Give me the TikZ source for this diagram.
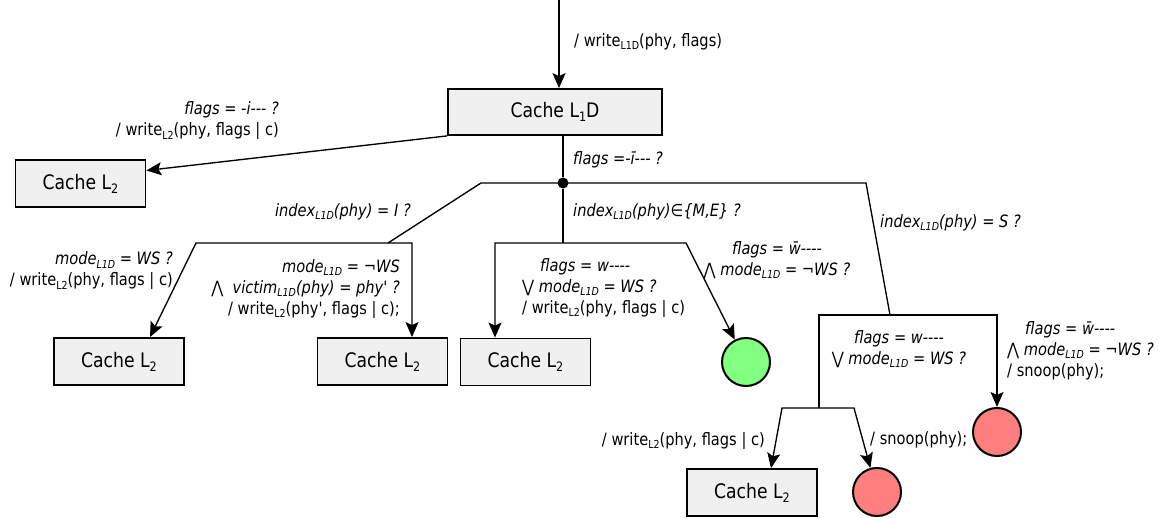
\documentclass[tikz,border=0pt]{standalone}
\usepackage{fontspec}
\setmainfont{DejaVu Sans}[Ligatures=TeXOff, FakeStretch=0.86]
\usetikzlibrary{arrows.meta}
\definecolor{boxGray}{HTML}{F0F0F0}
\definecolor{hitGreen}{HTML}{80FF80}
\definecolor{missRed}{HTML}{FF7F7F}
\newcommand{\lsub}[1]{\raisebox{-0.35ex}{\fontsize{11}{11}\selectfont #1}}
\newcommand{\bsub}[1]{\raisebox{-0.35ex}{\fontsize{13}{13}\selectfont #1}}

\begin{document}
\begin{tikzpicture}[x=1pt, y=-1pt,
    cachebox/.style={draw, line width=1.8pt, fill=boxGray, minimum width=130pt, minimum height=47pt, inner sep=0, font=\fontsize{20}{20}\selectfont},
    endhit/.style={circle, draw, line width=2pt, fill=hitGreen, minimum size=48pt, inner sep=0},
    endmiss/.style={circle, draw, line width=2pt, fill=missRed, minimum size=48pt, inner sep=0},
    flow/.style={line width=1.35pt},
    arr/.style={flow, -{Stealth[length=15pt, width=13pt, inset=3pt]}},
    both/.style={flow, {Stealth[length=15pt, width=13pt, inset=3pt]}-{Stealth[length=15pt, width=13pt, inset=3pt]}},
    lbl/.style={inner sep=0, font=\fontsize{17}{21}\selectfont}]
    \useasboundingbox (0,0) rectangle (1159,518);

    \node[cachebox, minimum width=214pt, minimum height=46pt] (l1d) at (555,112) {Cache L\bsub{1}D};
    \node[cachebox] (l2a) at (80.5,183.5) {Cache L\bsub{2}};
    \node[cachebox] (l2b) at (119,361.5) {Cache L\bsub{2}};
    \node[cachebox] (l2c) at (382.5,361.5) {Cache L\bsub{2}};
    \node[cachebox] (l2d) at (525.5,362) {Cache L\bsub{2}};
    \node[cachebox] (l2e) at (752,492.5) {Cache L\bsub{2}};
    \node[endhit] (hitM) at (746,362) {};
    \node[endmiss] (snpS) at (997,432) {};
    \node[endmiss] (snpW) at (877,492) {};
    \node[circle, fill, inner sep=0, minimum size=11pt] (fork) at (563,183) {};

    \coordinate (entry) at (559,0);
    \coordinate (forkL) at (481,183);
    \coordinate (forkR) at (866,183);
    \coordinate (invL) at (196,243);
    \coordinate (invR) at (412,243);
    \coordinate (invJ) at (388,243);
    \coordinate (meL) at (495,243);
    \coordinate (meR) at (686,243);
    \coordinate (shJ) at (890,315);
    \coordinate (shL) at (819,315);
    \coordinate (shR) at (997,315);
    \coordinate (wJ) at (819,408);
    \coordinate (wL) at (782,408);
    \coordinate (wR) at (854,408);

    \draw[arr] (entry) -- (entry |- l1d.north);
    \draw[arr] (l1d.south west) -- ([yshift=13pt]l2a.east);
    \draw[flow] (l1d.south -| fork) -- (fork);
    \draw[flow] (invJ) -- (forkL) -- (forkR) -- (shJ);
    \draw[flow] (fork) -- (fork |- meL);
    \draw[both] ([xshift=31pt]l2b.north) -- (invL) -- (invR) -- (invR |- l2c.north);
    \draw[both] (meL |- l2d.north) -- (meL) -- (meR) -- (hitM);
    \draw[arr] (wJ) -- (shL) -- (shR) -- (snpS);
    \draw[both] ([xshift=19pt]l2e.north) -- (wL) -- (wR) -- (snpW);

    \node[lbl, anchor=west] (tEntry) at (574,42) {/ write\lsub{L1D}(phy, flags)};
    \node[lbl, anchor=east, align=right] (tFlush) at (279,121) {\textit{flags = -i--- ?}\\/ write\lsub{L2}(phy, flags | c)};
    \node[lbl, anchor=west] (tKeep) at (573,160) {\textit{flags =-ī--- ?}};
    \node[lbl, anchor=east] (tInv) at (411,212) {\textit{index\lsub{L1D}(phy) = I ?}};
    \node[lbl, anchor=east, align=right] (tInvWs) at (173,271) {\textit{mode\lsub{L1D} = WS ?}\\/ write\lsub{L2}(phy, flags | c)};
    \node[lbl, anchor=east, align=right] (tInvVic) at (400,289) {\textit{mode\lsub{L1D} = ¬WS}\\⋀\ \ \textit{victim\lsub{L1D}(phy) = phy' ?}\\/ write\lsub{L2}(phy', flags | c);};
    \node[lbl, anchor=west] (tMe) at (573,212) {\textit{index\lsub{L1D}(phy)∈\{M,E\} ?}};
    \node[lbl, anchor=west, align=left] (tMeWr) at (522,288) {\hspace{18pt}\textit{flags = w----}\\⋁ \textit{mode\lsub{L1D} = WS ?}\\/ write\lsub{L2}(phy, flags | c)};
    \node[lbl, align=center] (tMeHit) at (777,260) {\textit{flags = w̄----}\\⋀ \textit{mode\lsub{L1D} = ¬WS ?}};
    \node[lbl, anchor=west] (tShIdx) at (880,223) {\textit{index\lsub{L1D}(phy) = S ?}};
    \node[lbl, align=center] (tShWr) at (899,349) {\textit{flags = w----}\\⋁ \textit{mode\lsub{L1D} = WS ?}};
    \node[lbl, anchor=west, align=left] (tShRd) at (1007,351) {\hspace{18pt}\textit{flags = w̄----}\\⋀ \textit{mode\lsub{L1D} = ¬WS ?}\\/ snoop(phy);};
    \node[lbl, anchor=west] (tSnoop) at (870,440) {/ snoop(phy);};
    \node[lbl, anchor=east] (tWrL2) at (765,441) {/ write\lsub{L2}(phy, flags | c)};
\end{tikzpicture}
\end{document}
